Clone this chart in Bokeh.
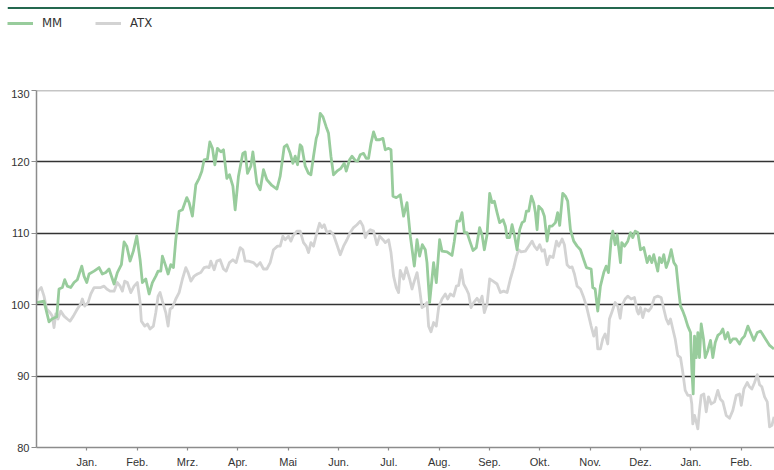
from bokeh.plotting import figure
from bokeh.models import Range1d, FixedTicker, Span, Legend, LegendItem
from bokeh.layouts import column
from bokeh.embed import file_html
from bokeh.resources import INLINE

# month tick labels (position 1 = first "Jan.")
months = ["Jan.", "Feb.", "Mrz.", "Apr.", "Mai", "Jun.", "Jul.", "Aug.",
          "Sep.", "Okt.", "Nov.", "Dez.", "Jan.", "Feb."]
month_pos = list(range(1, 15))
y_ticks = [80, 90, 100, 110, 120, 130]

# MM series: time in months since start, indexed value
mm_t = [0.000, 0.149, 0.249, 0.308, 0.402, 0.447, 0.513, 0.561, 0.612, 0.680, 0.746, 0.811, 0.899, 0.944, 0.998,
        1.044, 1.143, 1.243, 1.308, 1.376, 1.441, 1.541, 1.606, 1.686, 1.740, 1.793, 1.859, 1.924, 1.992,
        2.058, 2.103, 2.171, 2.237, 2.302, 2.370, 2.415, 2.469, 2.501, 2.568, 2.614, 2.668, 2.720, 2.767, 2.833, 2.899, 2.986,
        3.032, 3.097, 3.165, 3.231, 3.284, 3.330, 3.396, 3.443, 3.495, 3.543, 3.594, 3.662, 3.714, 3.781, 3.833, 3.901, 3.946,
        4.012, 4.099, 4.145, 4.191, 4.258, 4.298, 4.378, 4.443, 4.509, 4.576, 4.676, 4.775, 4.841, 4.920, 4.974,
        5.040, 5.093, 5.139, 5.185, 5.238, 5.272, 5.338, 5.403, 5.451, 5.503, 5.557, 5.590, 5.636, 5.690, 5.755, 5.801, 5.849, 5.900, 5.968,
        6.047, 6.113, 6.153, 6.219, 6.266, 6.332, 6.378, 6.431, 6.497, 6.550, 6.596, 6.644, 6.696, 6.749, 6.815, 6.882, 6.928, 6.994,
        7.042, 7.081, 7.147, 7.193, 7.226, 7.292, 7.360, 7.426, 7.505, 7.559, 7.610, 7.664, 7.723, 7.757, 7.809, 7.856, 7.888, 7.942,
        8.008, 8.055, 8.155, 8.254, 8.300, 8.354, 8.405, 8.453, 8.499, 8.552, 8.618, 8.672, 8.737, 8.803, 8.851, 8.896, 8.950,
        9.002, 9.049, 9.095, 9.149, 9.200, 9.268, 9.314, 9.348, 9.399, 9.447, 9.493, 9.546, 9.598, 9.646, 9.692, 9.731, 9.777, 9.831, 9.876, 9.910, 9.944, 9.976,
        10.043, 10.089, 10.143, 10.189, 10.242, 10.308, 10.353, 10.393, 10.453, 10.507, 10.552, 10.606, 10.672, 10.739, 10.805, 10.871, 10.924,
        11.018, 11.050, 11.097, 11.149, 11.202, 11.268, 11.316, 11.361, 11.415, 11.447, 11.495, 11.534, 11.600, 11.626, 11.680, 11.745, 11.799, 11.845, 11.892, 11.944, 11.998,
        12.063, 12.131, 12.176, 12.222, 12.262, 12.310, 12.341, 12.375, 12.421, 12.461, 12.509, 12.554, 12.608, 12.660, 12.707, 12.753, 12.793, 12.839, 12.886, 12.938, 12.992,
        13.017, 13.045, 13.071, 13.105, 13.137, 13.170, 13.204, 13.250, 13.284, 13.336, 13.389, 13.435, 13.483, 13.534, 13.588, 13.634, 13.681, 13.733, 13.781, 13.832, 13.900, 13.966,
        14.011, 14.065, 14.131, 14.184, 14.250, 14.318, 14.384, 14.463, 14.563, 14.649]
mm_v = [100.3, 100.5, 97.6, 98.0, 98.3, 102.2, 102.4, 103.5, 102.6, 102.4, 103.1, 103.5, 105.4, 104.0, 103.1,
        104.3, 104.7, 105.2, 104.3, 104.5, 105.0, 102.9, 104.5, 105.6, 108.8, 108.2, 106.1, 107.5, 109.6,
        106.3, 103.1, 103.6, 101.5, 103.1, 104.0, 104.7, 104.7, 106.8, 105.4, 104.3, 105.6, 105.2, 109.1, 113.1, 113.3, 115.0,
        114.3, 112.4, 116.8, 117.7, 118.7, 120.3, 120.4, 122.8, 121.9, 119.6, 121.9, 121.4, 121.7, 117.7, 118.2, 116.6, 113.3,
        118.0, 121.2, 121.4, 118.4, 119.4, 121.4, 117.0, 116.1, 118.9, 117.5, 116.7, 116.2, 118.0, 122.1, 122.4,
        121.2, 119.8, 120.8, 119.6, 122.4, 122.1, 119.4, 118.4, 118.2, 120.8, 123.3, 124.0, 126.8, 126.3, 124.9, 124.0, 120.8, 118.2, 118.7,
        119.1, 119.8, 118.7, 120.3, 120.8, 120.2, 120.1, 121.0, 121.2, 120.5, 120.5, 122.6, 124.2, 123.1, 123.1, 123.3, 121.7, 121.9,
        121.7, 115.2, 115.0, 115.2, 115.4, 112.4, 114.3, 109.6, 105.4, 109.1, 106.8, 108.4, 107.7, 105.9, 100.3, 103.6, 105.9, 103.1,
        109.1, 107.5, 107.4, 106.9, 108.9, 111.7, 111.7, 112.9, 110.1, 110.1, 108.7, 107.6, 108.0, 110.8, 109.8, 107.7, 109.8,
        115.6, 114.3, 114.5, 112.9, 111.5, 111.9, 111.0, 109.4, 109.4, 111.2, 109.8, 107.7, 110.5, 111.5, 111.7, 113.1, 113.1, 115.2, 114.3, 112.9, 110.5, 113.8,
        113.3, 112.4, 108.9, 111.0, 111.0, 111.5, 112.9, 111.1, 115.6, 115.2, 114.5, 110.5, 108.9, 108.2, 107.7, 106.3, 105.2,
        105.0, 102.4, 102.2, 99.1, 102.6, 104.5, 105.4, 104.5, 109.1, 110.3, 108.4, 109.8, 105.9, 108.7, 108.2, 108.9, 110.1, 109.4, 110.3, 110.1, 107.7,
        108.0, 105.9, 106.8, 105.9, 107.0, 105.6, 104.7, 106.6, 105.9, 107.0, 105.2, 106.1, 107.7, 105.9, 105.4, 102.2, 99.8, 99.1, 98.2, 97.0, 96.1,
        91.0, 87.5, 95.6, 92.6, 96.1, 92.6, 97.3, 95.2, 92.6, 93.6, 95.0, 92.6, 94.7, 95.7, 96.0, 96.6, 95.2, 96.1, 94.7, 95.2, 95.2, 94.5,
        95.2, 95.6, 97.0, 96.1, 95.0, 96.1, 96.3, 95.4, 94.3, 93.8]

# ATX series
atx_t = [0.000, 0.030, 0.095, 0.149, 0.203, 0.268, 0.314, 0.348, 0.382, 0.427, 0.481, 0.547, 0.612, 0.666, 0.732, 0.811, 0.879, 0.911, 0.958,
         1.024, 1.078, 1.143, 1.209, 1.276, 1.342, 1.396, 1.461, 1.541, 1.606, 1.660, 1.706, 1.753, 1.805, 1.873, 1.938,
         2.004, 2.058, 2.083, 2.151, 2.203, 2.256, 2.322, 2.370, 2.415, 2.455, 2.501, 2.568, 2.614, 2.654, 2.700, 2.767, 2.833, 2.899, 2.966,
         3.012, 3.066, 3.131, 3.197, 3.264, 3.330, 3.384, 3.429, 3.463, 3.529, 3.582, 3.648, 3.714, 3.767, 3.833, 3.901, 3.966,
         4.046, 4.099, 4.145, 4.211, 4.310, 4.378, 4.443, 4.509, 4.576, 4.642, 4.708, 4.787, 4.841, 4.894, 4.940,
         5.006, 5.053, 5.093, 5.173, 5.238, 5.304, 5.358, 5.403, 5.451, 5.503, 5.570, 5.622, 5.670, 5.716, 5.769, 5.835, 5.900, 5.968,
         6.034, 6.099, 6.167, 6.232, 6.298, 6.366, 6.431, 6.485, 6.531, 6.576, 6.630, 6.696, 6.763, 6.815, 6.882, 6.928, 6.994,
         7.042, 7.093, 7.147, 7.193, 7.226, 7.292, 7.346, 7.412, 7.459, 7.505, 7.559, 7.610, 7.658, 7.704, 7.757, 7.789, 7.837, 7.888, 7.942, 7.988,
         8.055, 8.121, 8.167, 8.220, 8.286, 8.340, 8.385, 8.439, 8.485, 8.539, 8.584, 8.632, 8.684, 8.751, 8.803, 8.851, 8.896, 8.950,
         9.002, 9.069, 9.149, 9.214, 9.280, 9.348, 9.413, 9.479, 9.533, 9.578, 9.626, 9.711, 9.777, 9.845, 9.890, 9.944, 9.996,
         10.043, 10.089, 10.143, 10.195, 10.262, 10.328, 10.374, 10.441, 10.487, 10.540, 10.592, 10.640, 10.686, 10.739, 10.805, 10.871, 10.924,
         11.018, 11.070, 11.118, 11.149, 11.202, 11.248, 11.296, 11.347, 11.381, 11.427, 11.495, 11.547, 11.594, 11.626, 11.693, 11.745, 11.813, 11.878, 11.932, 11.958, 11.998,
         12.043, 12.091, 12.157, 12.211, 12.276, 12.341, 12.409, 12.461, 12.509, 12.554, 12.594, 12.640, 12.687, 12.739, 12.793, 12.839, 12.886, 12.938, 12.992,
         13.017, 13.037, 13.071, 13.105, 13.137, 13.170, 13.204, 13.256, 13.304, 13.349, 13.403, 13.469, 13.534, 13.582, 13.634, 13.701, 13.767, 13.832, 13.900, 13.966,
         14.000, 14.052, 14.118, 14.163, 14.210, 14.264, 14.318, 14.363, 14.409, 14.463, 14.516, 14.562, 14.608, 14.652]
atx_v = [100.3, 101.9, 102.4, 101.2, 99.4, 98.9, 98.4, 96.8, 98.7, 98.0, 99.1, 98.4, 98.0, 97.7, 98.4, 99.4, 100.1, 100.8, 99.8,
         100.3, 101.5, 102.4, 102.4, 102.4, 102.6, 102.2, 101.9, 101.9, 103.1, 102.6, 101.9, 103.3, 103.1, 101.7, 102.6,
         103.1, 100.3, 97.7, 97.0, 97.3, 96.6, 97.0, 98.9, 101.2, 101.7, 100.5, 98.9, 97.0, 99.4, 99.6, 100.8, 101.7, 103.6, 105.2,
         104.5, 103.3, 104.0, 104.3, 104.5, 105.2, 105.3, 105.2, 106.1, 104.9, 106.1, 106.3, 105.0, 104.7, 105.9, 106.3, 105.9,
         108.0, 107.7, 106.1, 106.1, 105.9, 105.4, 105.9, 105.0, 105.0, 105.9, 107.7, 108.2, 108.2, 109.6, 109.1,
         109.6, 108.9, 109.6, 110.3, 110.3, 108.7, 108.2, 107.3, 108.7, 108.2, 110.1, 111.4, 110.8, 111.2, 110.1, 110.3, 109.8, 108.4,
         107.0, 108.2, 109.1, 110.1, 110.8, 111.2, 111.7, 111.0, 109.4, 110.1, 110.5, 110.3, 108.4, 109.6, 109.1, 108.7, 109.1,
         107.3, 104.0, 102.4, 101.7, 104.8, 103.6, 105.2, 103.6, 102.2, 103.3, 104.5, 102.2, 99.6, 99.8, 100.3, 97.0, 96.2, 97.5, 97.0, 99.6,
         100.8, 101.5, 100.8, 101.5, 101.2, 102.6, 102.7, 104.9, 102.9, 102.2, 101.5, 99.6, 100.3, 100.9, 100.3, 101.2, 98.9, 100.1,
         103.6, 103.3, 102.9, 101.7, 101.9, 101.7, 103.6, 105.2, 106.8, 107.7, 107.4, 107.5, 108.2, 108.9, 108.2, 107.7, 108.4,
         107.5, 107.7, 105.6, 106.8, 106.6, 108.9, 108.2, 109.2, 108.4, 105.6, 105.2, 105.3, 104.3, 102.6, 102.2, 101.0, 99.8,
         97.0, 95.6, 96.8, 93.8, 93.8, 95.2, 95.9, 94.5, 98.0, 98.9, 100.3, 99.8, 98.1, 99.8, 100.8, 101.2, 100.8, 101.0, 99.1, 98.7, 99.6,
         98.2, 99.4, 99.1, 99.6, 101.0, 101.2, 101.0, 99.4, 98.0, 97.3, 98.0, 96.6, 95.2, 92.9, 92.6, 90.5, 88.0, 87.3, 87.3,
         86.1, 83.3, 84.5, 83.6, 82.6, 85.2, 87.3, 87.5, 85.0, 87.1, 86.1, 86.4, 88.0, 86.8, 86.4, 84.5, 84.1, 85.2, 87.3, 87.5,
         85.9, 88.2, 89.1, 88.5, 88.2, 89.1, 90.2, 88.8, 88.5, 87.1, 86.4, 82.9, 83.1, 84.3]

GREEN = "#98cc9c"
GREY = "#d3d3d3"
AXIS_GREY = "#8c8c8c"
TEXT = "#333333"
LINE_W = 2.8
LEGEND_FONT = "DejaVu Sans Condensed, Liberation Sans Narrow, Liberation Sans, sans-serif"

# ---------- header strip: rule + legend ----------
head = figure(width=774, height=89, output_backend="svg", toolbar_location=None,
              x_range=Range1d(0, 1), y_range=Range1d(0, 89),
              x_axis_location=None, y_axis_location=None,
              min_border=0, min_border_left=7, min_border_right=0,
              min_border_top=0, min_border_bottom=0)
head.frame_align = False
head.outline_line_color = None
head.grid.visible = False
head.add_layout(Span(location=81.5, dimension="width", line_color="#24684f", line_width=2))

# legend swatches only: these sources hold no visible data
nan = float("nan")
h_mm = head.line(x=[nan], y=[nan], line_color=GREEN, line_width=3)
h_atx = head.line(x=[nan], y=[nan], line_color=GREY, line_width=3)
legend = Legend(items=[LegendItem(label="MM", renderers=[h_mm]),
                       LegendItem(label="ATX", renderers=[h_atx])],
                orientation="horizontal", location=(0, 59),
                padding=0, margin=0, spacing=0,
                glyph_width=26, glyph_height=14, label_width=53, label_height=14,
                label_standoff=9, border_line_color=None, background_fill_alpha=0,
                label_text_font=LEGEND_FONT, label_text_font_size="13px",
                label_text_color=TEXT)
head.add_layout(legend)

# ---------- main chart ----------
p = figure(width=774, height=381, output_backend="svg", toolbar_location=None,
           x_range=Range1d(0, 14.66), y_range=Range1d(80, 130),
           min_border_left=36, min_border_right=0, min_border_top=1, min_border_bottom=21,
           background_fill_color="white", border_fill_color="white")
p.outline_line_color = None

r_atx = p.line(atx_t, atx_v, line_color=GREY, line_width=LINE_W, line_join="round")
r_mm = p.line(mm_t, mm_v, line_color=GREEN, line_width=LINE_W, line_join="round")

p.xgrid.visible = False
p.ygrid.ticker = FixedTicker(ticks=[90, 100, 110, 120])
p.ygrid.grid_line_color = "#333333"
p.ygrid.grid_line_width = 1.4
p.add_layout(Span(location=130, dimension="width", line_color=AXIS_GREY, line_width=1.5))

p.yaxis.ticker = FixedTicker(ticks=y_ticks)
p.xaxis.ticker = FixedTicker(ticks=month_pos)
p.xaxis.major_label_overrides = {pos: lab for pos, lab in zip(month_pos, months)}
for ax in (p.xaxis[0], p.yaxis[0]):
    ax.axis_line_color = AXIS_GREY
    ax.axis_line_width = 1.5
    ax.major_tick_line_color = AXIS_GREY
    ax.major_tick_line_width = 1.2
    ax.major_tick_in = 0
    ax.minor_tick_in = 0
    ax.minor_tick_out = 0
    ax.major_label_text_font = "Liberation Sans"
    ax.major_label_text_font_size = "11px"
    ax.major_label_text_color = TEXT
p.yaxis.major_tick_out = 5
p.yaxis.major_label_standoff = 2
p.xaxis.major_tick_out = 3
p.xaxis.major_label_standoff = 5

layout = column(head, p, spacing=0)
open("out.html", "w").write(file_html(layout, INLINE))
